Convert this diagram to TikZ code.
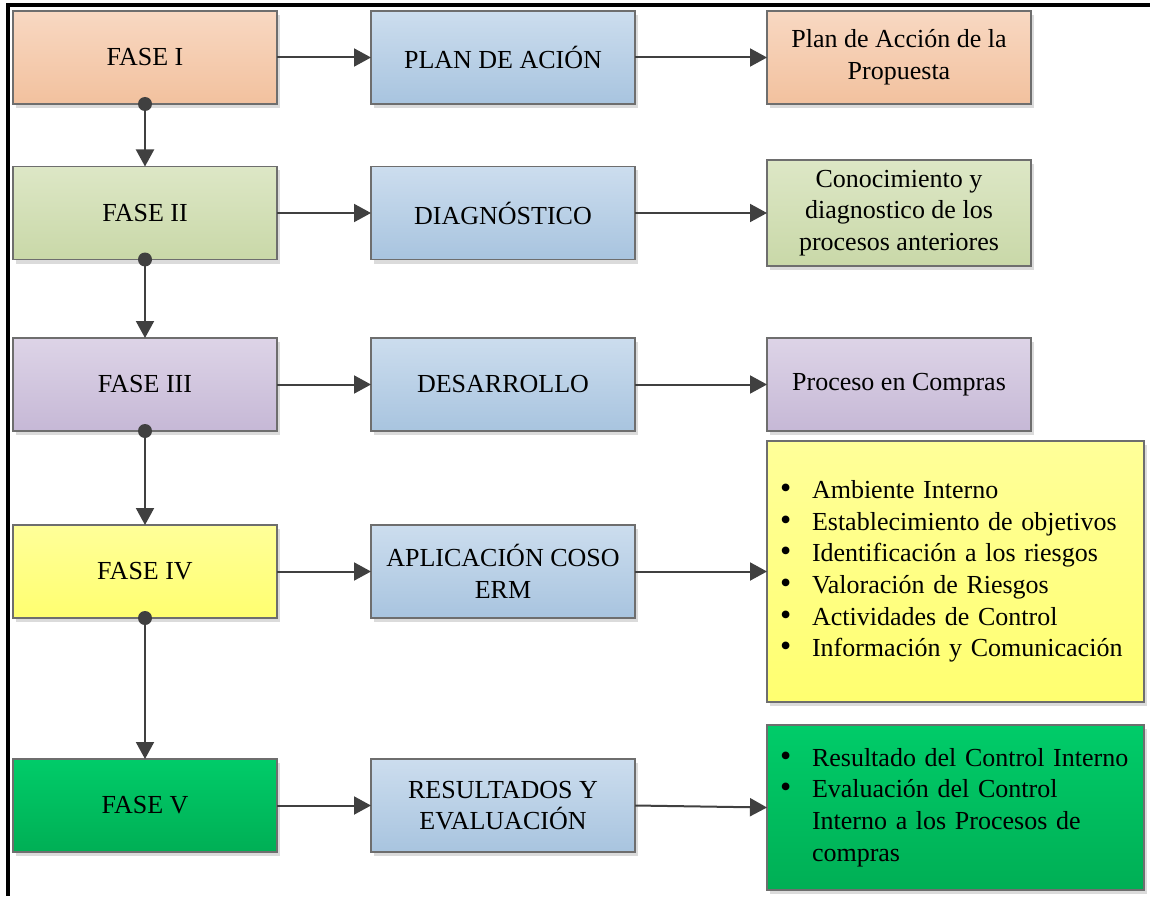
\documentclass[tikz,border=0pt]{standalone}
\usepackage{fontspec}
\setmainfont{Liberation Serif}
\usetikzlibrary{arrows.meta,shadows}

% box fills: light top, deeper bottom
\definecolor{orangeT}{HTML}{F8D8C2}
\definecolor{orangeB}{HTML}{F2C19E}
\definecolor{oliveT}{HTML}{DDE7C6}
\definecolor{oliveB}{HTML}{C9D8A8}
\definecolor{lilacT}{HTML}{DDD4E7}
\definecolor{lilacB}{HTML}{C6B8D6}
\definecolor{yellowT}{HTML}{FFFF99}
\definecolor{yellowB}{HTML}{FFFF70}
\definecolor{greenT}{HTML}{00CC69}
\definecolor{greenB}{HTML}{00AF55}
\definecolor{blueT}{HTML}{CCDDEE}
\definecolor{blueB}{HTML}{A8C4DF}
\definecolor{edge}{HTML}{6E6E6E}
\definecolor{conn}{HTML}{404040}

\newcommand\bitem[1]{\mbox{\makebox[32pt][l]{{\fontsize{32}{32}\selectfont\textbullet}}#1}}
\newcommand\cont[1]{\mbox{\hspace*{32pt}#1}}

\tikzset{
  box/.style={draw=edge, line width=1.2pt, outer sep=0pt, inner sep=6pt,
    minimum width=264pt, minimum height=93pt, align=center,
    font=\fontsize{26}{31.6}\selectfont,
    drop shadow={shadow xshift=3pt, shadow yshift=-4pt, fill=black!14, opacity=1}},
  listbox/.style={box, minimum width=377pt, text width=351pt, inner xsep=13pt, align=left},
  orangebox/.style={box, top color=orangeT, bottom color=orangeB},
  olivebox/.style={box, top color=oliveT, bottom color=oliveB},
  lilacbox/.style={box, top color=lilacT, bottom color=lilacB},
  yellowbox/.style={box, top color=yellowT, bottom color=yellowB},
  greenbox/.style={box, top color=greenT, bottom color=greenB},
  bluebox/.style={box, top color=blueT, bottom color=blueB},
  link/.style={draw=conn, line width=2pt, -{Triangle[length=17pt, width=18pt]}},
  joint/.style={fill=conn}
}

\begin{document}
\begin{tikzpicture}[x=1pt, y=-1pt]
  \useasboundingbox (0,0) rectangle (1150,896);
  % page frame (top and left rules)
  \draw[line width=4pt] (1150,5.5) -- (7.5,5.5) -- (7.5,896);

  % phases
  \node[orangebox] (f1) at (145,57.5)  {FASE I};
  \node[olivebox]  (f2) at (145,213)   {FASE II};
  \node[lilacbox]  (f3) at (145,384.5) {FASE III};
  \node[yellowbox] (f4) at (145,571.5) {FASE IV};
  \node[greenbox]  (f5) at (145,805.5) {FASE V};

  % activities
  \node[bluebox] (a1) at (503,57.5)  {PLAN DE ACIÓN};
  \node[bluebox] (a2) at (503,213)   {DIAGNÓSTICO};
  \node[bluebox] (a3) at (503,384.5) {DESARROLLO};
  \node[bluebox] (a4) at (503,571.5) {APLICACIÓN COSO\\ERM};
  \node[bluebox] (a5) at (503,805.5) {RESULTADOS Y\\EVALUACIÓN};

  % outcomes
  \node[orangebox] (r1) at (899,57.5) {Plan de Acción de la\\Propuesta};
  \node[olivebox, minimum height=106pt] (r2) at (899,213)
    {Conocimiento y\\diagnostico de los\\procesos anteriores};
  \node[lilacbox] (r3) at (899,384.5) {Proceso en Compras};
  \node[yellowbox, listbox, minimum height=261pt] (r4) at (955.5,571.5)
    {\bitem{Ambiente Interno}\\
     \bitem{Establecimiento de objetivos}\\
     \bitem{Identificación a los riesgos}\\
     \bitem{Valoración de Riesgos}\\
     \bitem{Actividades de Control}\\
     \bitem{Información y Comunicación}};
  \node[greenbox, listbox, minimum height=165pt] (r5) at (955.5,807.5)
    {\bitem{Resultado del Control Interno}\\
     \bitem{Evaluación del Control}\\
     \cont{Interno a los Procesos de}\\
     \cont{compras}};

  % phase sequence
  \foreach \a/\b in {f1/f2, f2/f3, f3/f4, f4/f5} {
    \draw[link] (\a.south) -- (\b.north);
    \fill[joint] (\a.south) circle (7pt);
  }

  % phase -> activity -> outcome
  \foreach \i in {1,...,5} {
    \draw[link] (f\i.east) -- (a\i.west);
    \draw[link] (a\i.east) -- (r\i.west);
  }
\end{tikzpicture}
\end{document}
